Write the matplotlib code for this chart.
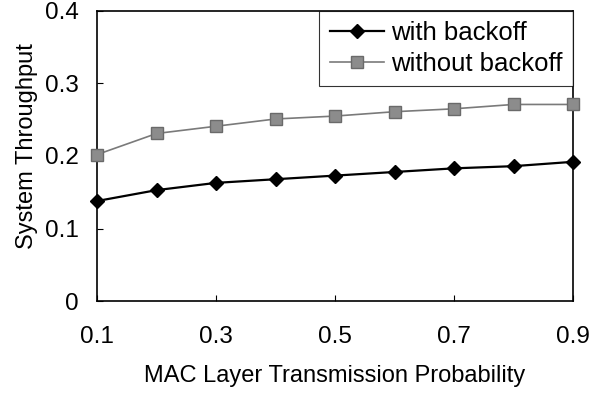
import matplotlib
matplotlib.use("Agg")
from matplotlib import pyplot as plt

# transmission probability vs throughput
prob = [0.1, 0.2, 0.3, 0.4, 0.5, 0.6, 0.7, 0.8, 0.9]
with_backoff = [0.138, 0.153, 0.163, 0.168, 0.173, 0.178, 0.183, 0.186, 0.192]
without_backoff = [0.202, 0.231, 0.241, 0.251, 0.255, 0.261, 0.265, 0.271, 0.271]

plt.rcParams['font.family'] = ['Liberation Sans', 'DejaVu Sans']

fig = plt.figure(figsize=(5.92, 4.0), dpi=100)
ax = fig.add_axes([0.164, 0.247, 0.804, 0.726])

ax.plot(prob, with_backoff, color='black', lw=1.6, marker='D', ms=7.5,
        mfc='black', mec='black', label='with backoff', clip_on=False, zorder=3)
ax.plot(prob, without_backoff, color='#7a7a7a', lw=1.2, marker='s', ms=8.5,
        mfc='#8c8c8c', mec='#6a6a6a', label='without backoff', clip_on=False, zorder=3)

ax.set_xlim(0.1, 0.9)
ax.set_ylim(0, 0.4)
ax.set_xticks([0.1, 0.3, 0.5, 0.7, 0.9])
ax.set_xticklabels(['0.1', '0.3', '0.5', '0.7', '0.9'])
ax.set_yticks([0, 0.1, 0.2, 0.3, 0.4])
ax.set_yticklabels(['0', '0.1', '0.2', '0.3', '0.4'])
ax.tick_params(direction='in', length=4.5, width=0.8, labelsize=17.5)
ax.tick_params(axis='x', pad=18)
ax.tick_params(axis='y', pad=13)
for s in ax.spines.values():
    s.set_linewidth(1.2)

ax.set_xlabel('MAC Layer Transmission Probability', fontsize=17, labelpad=12)
ax.set_ylabel('System Throughput', fontsize=17)
ax.yaxis.set_label_coords(-0.124, 0.535)

leg = ax.legend(loc='upper right', fontsize=18.5, frameon=True, fancybox=False,
                borderaxespad=0, handlelength=2.1, handletextpad=0.3,
                borderpad=0.4, labelspacing=0.25)
leg.get_frame().set_edgecolor('black')
leg.get_frame().set_linewidth(0.8)

fig.savefig('out.png', dpi=100)
